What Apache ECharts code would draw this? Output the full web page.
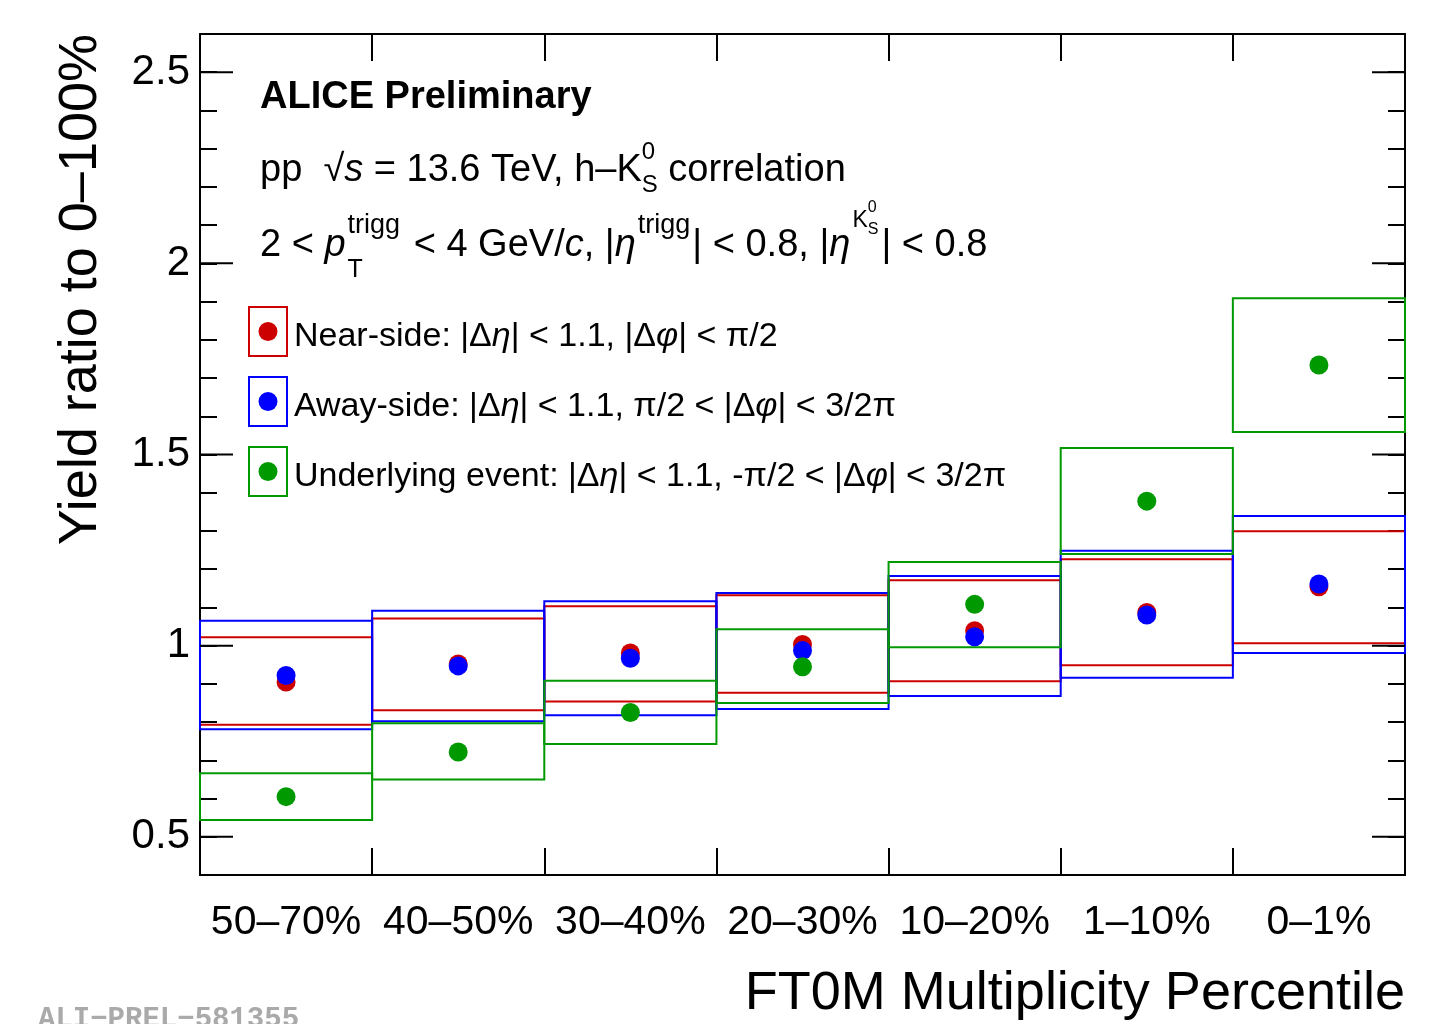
<!DOCTYPE html>
<html>
<head>
<meta charset="utf-8">
<script src="https://cdn.jsdelivr.net/npm/echarts@6/dist/echarts.min.js"></script>
<style>
  html, body { margin: 0; padding: 0; background: #fff; }
  #main { width: 1439px; height: 1024px; }
</style>
</head>
<body>
<div id="main"></div>
<script>
// multiplicity classes
var categories = ['50–70%', '40–50%', '30–40%', '20–30%', '10–20%', '1–10%', '0–1%'];

// near-side yield ratio + systematic box
var nearVal = [0.905, 0.952, 0.981, 1.003, 1.039, 1.087, 1.154];
var nearLo  = [0.793, 0.831, 0.854, 0.877, 0.907, 0.949, 1.006];
var nearHi  = [1.022, 1.071, 1.103, 1.132, 1.171, 1.226, 1.299];

// away-side
var awayVal = [0.922, 0.947, 0.967, 0.987, 1.023, 1.080, 1.161];
var awayLo  = [0.781, 0.802, 0.818, 0.834, 0.868, 0.916, 0.981];
var awayHi  = [1.065, 1.091, 1.116, 1.138, 1.182, 1.248, 1.339];

// underlying event
var ueVal = [0.605, 0.722, 0.825, 0.945, 1.108, 1.378, 1.734];
var ueLo  = [0.544, 0.650, 0.743, 0.850, 0.996, 1.240, 1.559];
var ueHi  = [0.666, 0.797, 0.908, 1.043, 1.219, 1.517, 1.909];

// major y ticks (labelled)
var yMajorTicks = [0.5, 1, 1.5, 2, 2.5];

var RED = '#cc0000', BLUE = '#0000ff', GREEN = '#009900';
var FONT = '"Liberation Sans", Arial, Helvetica, sans-serif';
var BASE_K = 0.31; // canvas 'middle' -> alphabetic baseline offset (per px of font size)

var myChart = echarts.init(document.getElementById('main'));

// --- small text layout helper (sup/sub scripts like ROOT's TLatex) ---
var ctx = document.createElement('canvas').getContext('2d');
function fontStr(it, b, s) {
    return (it ? 'italic ' : '') + (b ? 'bold ' : '') + s + 'px ' + FONT;
}
function textLine(x, base, size, parts, bold) {
    var out = [];
    var cx = x;
    parts.forEach(function (p) {
        if (typeof p === 'string') p = { t: p };
        var items = p.stack || [p];
        var adv = 0;
        items.forEach(function (q) {
            var s = q.s || size;
            var f = fontStr(q.it, bold, s);
            ctx.font = f;
            var w = ctx.measureText(q.t).width;
            if (w > adv) adv = w;
            out.push({
                type: 'text',
                x: cx,
                y: base + (q.dy || 0) - BASE_K * s,
                silent: true,
                style: {
                    text: q.t, font: f, fill: '#000',
                    textAlign: 'left', textVerticalAlign: 'middle',
                    align: 'left', verticalAlign: 'middle'
                }
            });
        });
        cx += adv + (p.pad || 0);
    });
    return out;
}

// boxes for systematic uncertainties
function boxSeries(name, lo, hi, color, z) {
    return {
        name: name,
        type: 'custom',
        z: z,
        silent: true,
        data: categories.map(function (c, i) { return [i, lo[i], hi[i]]; }),
        renderItem: function (params, api) {
            var i = api.value(0);
            var top = api.coord([i, api.value(2)]);
            var bot = api.coord([i, api.value(1)]);
            var w = api.size([1, 0])[0];
            return {
                type: 'rect',
                shape: { x: top[0] - w / 2, y: top[1], width: w, height: bot[1] - top[1] },
                style: { fill: 'none', stroke: color, lineWidth: 2 }
            };
        }
    };
}

function pointSeries(name, vals, color, z) {
    return {
        name: name,
        type: 'scatter',
        z: z,
        symbol: 'circle',
        symbolSize: 19,
        itemStyle: { color: color, opacity: 1 },
        data: vals
    };
}

// long ticks at labelled values, on both sides
var majorTickSeries = {
    type: 'custom',
    z: 10,
    silent: true,
    data: yMajorTicks.map(function (v) { return [0, v]; }),
    renderItem: function (params, api) {
        var y = api.coord([0, api.value(1)])[1];
        var l = params.coordSys.x;
        var r = l + params.coordSys.width;
        return {
            type: 'group',
            children: [
                { type: 'line', shape: { x1: l, y1: y, x2: l + 33, y2: y }, style: { stroke: '#000', lineWidth: 2 } },
                { type: 'line', shape: { x1: r - 33, y1: y, x2: r, y2: y }, style: { stroke: '#000', lineWidth: 2 } }
            ]
        };
    }
};

var graphics = [];
graphics = graphics.concat(textLine(260, 109, 38, ['ALICE Preliminary'], true));
graphics = graphics.concat(textLine(260, 182, 38, [
    'pp  √', { t: 's', it: true }, ' = 13.6 TeV, h–K',
    { stack: [{ t: '0', s: 24, dy: -22 }, { t: 'S', s: 24, dy: 11 }] },
    ' correlation'
]));
graphics = graphics.concat(textLine(260, 257, 38, [
    '2 < ', { t: 'p', it: true, pad: 2 },
    { stack: [{ t: 'trigg', s: 27, dy: -23 }, { t: 'T', s: 25, dy: 21 }], pad: 3 },
    ' < 4 GeV/', { t: 'c', it: true }, ', |', { t: 'η', it: true, pad: 2 },
    { t: 'trigg', s: 27, dy: -23, pad: 2 },
    '| < 0.8, |', { t: 'η', it: true, pad: 2 },
    { t: 'K', s: 23, dy: -29 },
    { stack: [{ t: '0', s: 16, dy: -44 }, { t: 'S', s: 16, dy: -22 }], pad: 3 },
    '| < 0.8'
]));

// legend
var legendRows = [
    { color: RED, y: 307, parts: ['Near-side: |Δ', { t: 'η', it: true }, '| < 1.1, |Δ', { t: 'φ', it: true }, '| < π/2'] },
    { color: BLUE, y: 377, parts: ['Away-side: |Δ', { t: 'η', it: true }, '| < 1.1, π/2 < |Δ', { t: 'φ', it: true }, '| < 3/2π'] },
    { color: GREEN, y: 447, parts: ['Underlying event: |Δ', { t: 'η', it: true }, '| < 1.1, -π/2 < |Δ', { t: 'φ', it: true }, '| < 3/2π'] }
];
legendRows.forEach(function (row) {
    graphics.push({ type: 'rect', silent: true, shape: { x: 249, y: row.y, width: 38, height: 49 },
        style: { fill: 'none', stroke: row.color, lineWidth: 2 } });
    graphics.push({ type: 'circle', silent: true, shape: { cx: 268, cy: row.y + 24.5, r: 9.5 },
        style: { fill: row.color } });
    graphics = graphics.concat(textLine(294, row.y + 40, 34, row.parts));
});

// axis titles
graphics.push({
    type: 'text', x: 108, y: 34, rotation: Math.PI / 2, silent: true,
    style: { text: 'Yield ratio to 0–100%', font: '54px ' + FONT, fill: '#000',
        textAlign: 'right', textVerticalAlign: 'bottom', align: 'right', verticalAlign: 'bottom' }
});
graphics.push({
    type: 'text', x: 1405, y: 1011 - BASE_K * 54, silent: true,
    style: { text: 'FT0M Multiplicity Percentile', font: '54px ' + FONT, fill: '#000',
        textAlign: 'right', textVerticalAlign: 'middle', align: 'right', verticalAlign: 'middle' }
});
graphics.push({
    type: 'text', x: 38, y: 1029 - BASE_K * 29, silent: true,
    style: { text: 'ALI−PREL−581355', font: 'bold 29px "Liberation Mono", monospace', fill: '#aaaaaa',
        textAlign: 'left', textVerticalAlign: 'middle', align: 'left', verticalAlign: 'middle' }
});

var option = {
    backgroundColor: '#fff',
    animation: false,
    grid: { left: 200, right: 34, top: 34, bottom: 149, containLabel: false },
    xAxis: [
        {
            type: 'category',
            data: categories,
            position: 'bottom',
            boundaryGap: true,
            axisLine: { show: true, lineStyle: { color: '#000', width: 2 } },
            axisTick: { show: true, inside: true, length: 27, alignWithLabel: false, lineStyle: { color: '#000', width: 2 } },
            axisLabel: { show: true, color: '#000', fontSize: 41, fontFamily: FONT, margin: 27, interval: 0 },
            splitLine: { show: false }
        },
        {
            type: 'category',
            data: categories,
            position: 'top',
            boundaryGap: true,
            axisLine: { show: true, lineStyle: { color: '#000', width: 2 } },
            axisTick: { show: true, inside: true, length: 27, alignWithLabel: false, lineStyle: { color: '#000', width: 2 } },
            axisLabel: { show: false },
            splitLine: { show: false }
        }
    ],
    yAxis: [
        {
            type: 'value',
            position: 'left',
            min: 0.4, max: 2.6, interval: 0.1,
            axisLine: { show: true, lineStyle: { color: '#000', width: 2 } },
            axisTick: { show: true, inside: true, length: 17, lineStyle: { color: '#000', width: 2 } },
            axisLabel: {
                show: true, color: '#000', fontSize: 42, fontFamily: FONT, margin: 10,
                formatter: function (v) {
                    for (var k = 0; k < yMajorTicks.length; k++) {
                        if (Math.abs(v - yMajorTicks[k]) < 1e-6) return String(yMajorTicks[k]);
                    }
                    return '';
                }
            },
            splitLine: { show: false }
        },
        {
            type: 'value',
            position: 'right',
            min: 0.4, max: 2.6, interval: 0.1,
            axisLine: { show: true, lineStyle: { color: '#000', width: 2 } },
            axisTick: { show: true, inside: true, length: 17, lineStyle: { color: '#000', width: 2 } },
            axisLabel: { show: false },
            splitLine: { show: false }
        }
    ],
    series: [
        boxSeries('Near-side sys', nearLo, nearHi, RED, 2),
        boxSeries('Away-side sys', awayLo, awayHi, BLUE, 3),
        boxSeries('UE sys', ueLo, ueHi, GREEN, 4),
        pointSeries('Near-side', nearVal, RED, 5),
        pointSeries('Away-side', awayVal, BLUE, 6),
        pointSeries('Underlying event', ueVal, GREEN, 7),
        majorTickSeries
    ],
    graphic: graphics
};
myChart.setOption(option);
</script>
</body>
</html>
